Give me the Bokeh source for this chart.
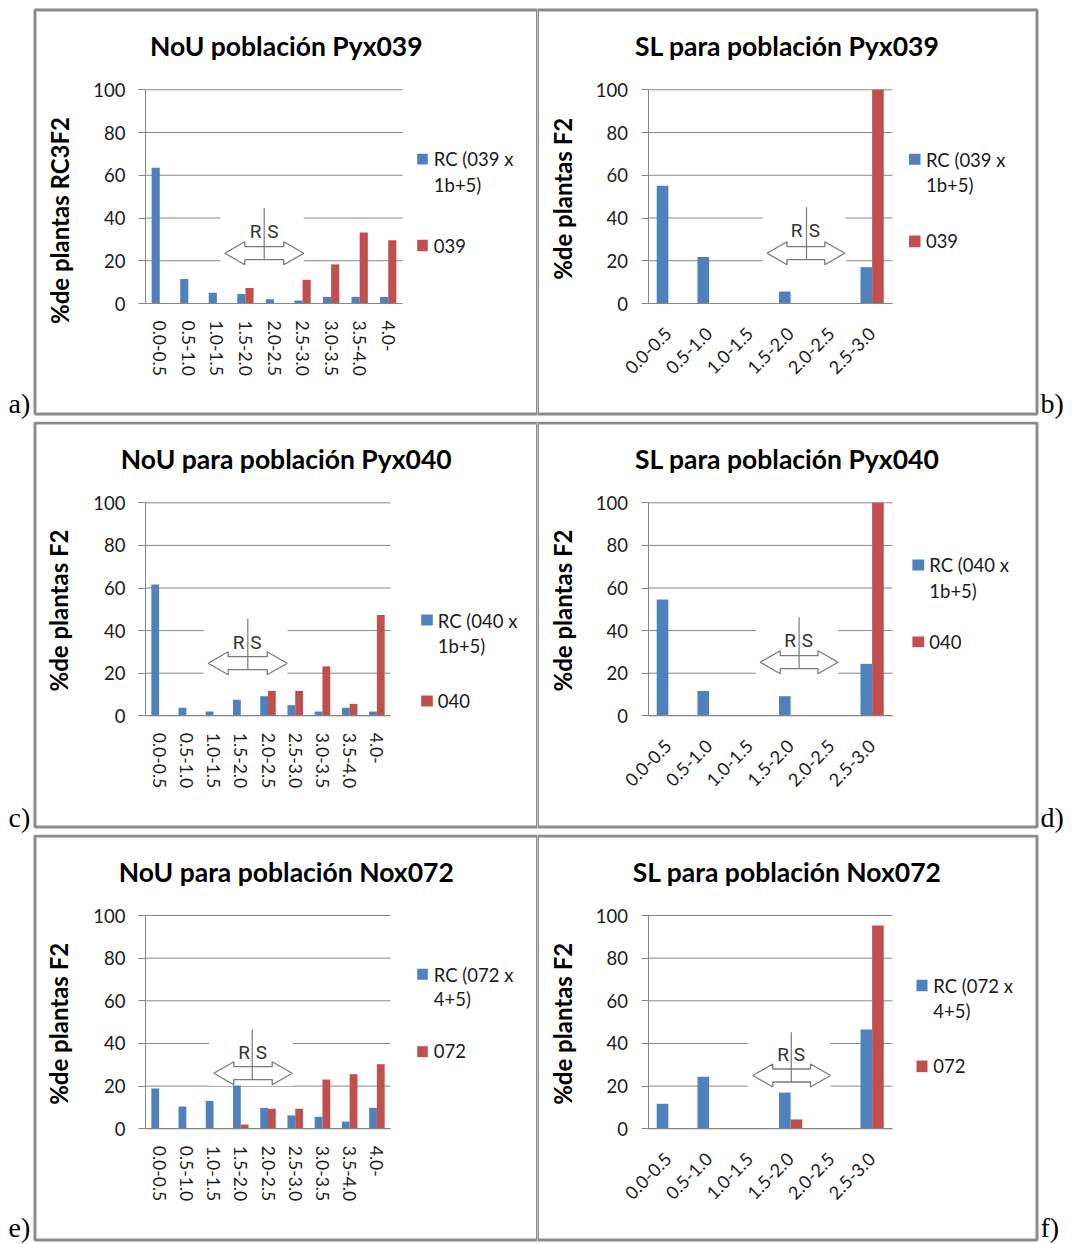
import math
from bokeh.plotting import figure
from bokeh.models import ColumnDataSource, Range1d, Label, BoxAnnotation, FixedTicker
from bokeh.transform import dodge
from bokeh.layouts import row, column
from bokeh.embed import file_html
from bokeh.resources import INLINE

# ---------------- data ----------------
cats_nou = ["0.0-0.5", "0.5-1.0", "1.0-1.5", "1.5-2.0", "2.0-2.5",
            "2.5-3.0", "3.0-3.5", "3.5-4.0", "4.0-"]
cats_sl = ["0.0-0.5", "0.5-1.0", "1.0-1.5", "1.5-2.0", "2.0-2.5", "2.5-3.0"]

nou_039_rc = [63.5, 11.5, 5.0, 4.4, 2.0, 1.4, 3.1, 3.1, 3.1]
nou_039_par = [0, 0, 0, 7.3, 0, 11.1, 18.3, 33.2, 29.6]
sl_039_rc = [55.1, 21.8, 0, 5.6, 0, 17.0]
sl_039_par = [0, 0, 0, 0, 0, 100]

nou_040_rc = [61.7, 3.8, 2.0, 7.5, 9.2, 5.0, 2.0, 3.8, 2.0]
nou_040_par = [0, 0, 0, 0, 11.7, 11.7, 23.2, 5.6, 47.3]
sl_040_rc = [54.6, 11.7, 0, 9.2, 0, 24.4]
sl_040_par = [0, 0, 0, 0, 0, 100]

nou_072_rc = [18.9, 10.5, 13.0, 20.3, 9.8, 6.3, 5.6, 3.4, 9.8]
nou_072_par = [0, 0, 0, 2.0, 9.4, 9.4, 23.1, 25.6, 30.3]
sl_072_rc = [11.7, 24.4, 0, 17.0, 0, 46.6]
sl_072_par = [0, 0, 0, 4.4, 0, 95.3]

y_ticks = [0, 20, 40, 60, 80, 100]

titles = ["NoU población Pyx039", "SL para población Pyx039",
          "NoU para población Pyx040", "SL para población Pyx040",
          "NoU para población Nox072", "SL para población Nox072"]
ylabels = ["%de plantas RC3F2", "%de plantas F2", "%de plantas F2",
           "%de plantas F2", "%de plantas F2", "%de plantas F2"]
legend_rc = [("RC (039 x", "1b+5)"), ("RC (039 x", "1b+5)"),
             ("RC (040 x", "1b+5)"), ("RC (040 x", "1b+5)"),
             ("RC (072 x", "4+5)"), ("RC (072 x", "4+5)")]
legend_par = ["039", "039", "040", "040", "072", "072"]
tags = ["a)", "b)", "c)", "d)", "e)", "f)"]

series = [(cats_nou, nou_039_rc, nou_039_par), (cats_sl, sl_039_rc, sl_039_par),
          (cats_nou, nou_040_rc, nou_040_par), (cats_sl, sl_040_rc, sl_040_par),
          (cats_nou, nou_072_rc, nou_072_par), (cats_sl, sl_072_rc, sl_072_par)]

# ---------------- styles / layout (page pixels) ----------------
BLUE = "#4F81BD"
RED = "#C0504D"
GRID = "#868686"
BORDER = "#8c8c8c"
ARROW = "#7a7a7a"
TXT = "#1a1a1a"
SANS = "Lato"
SERIF = "Liberation Serif"
RSFONT = "Roboto"
BAR_W = 1 / 3.5

COLS = [(0, 537), (537, 541)]                  # page x origin, width
ROWS = [(0, 421), (421, 413), (834, 410)]      # page y origin, height
BOX_X = [(34.5, 537.0), (537.0, 1036.5)]
BOX_Y = [(9.5, 413.5), (422.5, 826.5), (835.5, 1239.5)]
TAG_X = [8, 1040]
TAG_MID = [403, 817, 1227]
TITLE_DY = 36

# frame: (x left, x right, y top (=100), y bottom (=0)); ylab: centre
# legend: sq x0, sq x1, text x, blue sq top, bottom, line1 mid, line2 mid, red sq top, bottom, red mid
# arrow: left tip, right tip, centre y, bar x, bar top, R x, S x, R/S y, white box x0, x1
geo = [
    dict(frame=(145, 402, 89.3, 303), ylab=(59, 220),
         legend=(416.7, 427.3, 433.3, 153.3, 164, 158.9, 184.5, 239.3, 250.7, 245),
         arrow=(224.3, 303.3, 252.7, 263.7, 207.7, 255, 272.5, 230.7, 220, 303.3)),
    dict(frame=(647.5, 892, 89.3, 303), ylab=(562, 198.3),
         legend=(908.5, 920, 925.4, 153.3, 164.3, 159, 184, 235, 246.7, 240.7),
         arrow=(766.5, 844.3, 252.7, 806, 206.7, 796, 814, 230, 762, 845.3)),
    dict(frame=(145, 390, 502.3, 715.3), ylab=(58, 610),
         legend=(420.7, 432.3, 437.3, 614, 625, 620, 645.5, 695, 706, 700.3),
         arrow=(207.7, 286.7, 662.7, 247.3, 618.3, 238, 255.5, 641.7, 203, 287)),
    dict(frame=(647.5, 892, 502.3, 715.3), ylab=(562, 610),
         legend=(911.9, 923.7, 928.8, 559, 570, 564.3, 590, 636, 646.7, 641.7),
         arrow=(759.7, 837.5, 661.7, 798.6, 616.7, 789.7, 807, 640, 755.3, 837.5)),
    dict(frame=(145, 390, 915, 1128.3), ylab=(58, 1023.3),
         legend=(416.7, 427.3, 433.3, 968.3, 979.3, 974.2, 998.9, 1045.7, 1056.7, 1050.3),
         arrow=(213.3, 291.7, 1072.7, 251.7, 1029.3, 243.5, 261, 1051.7, 208.3, 292.3)),
    dict(frame=(647.5, 892, 915, 1128.3), ylab=(562, 1023.3),
         legend=(916, 927, 932.8, 979.3, 990.7, 985, 1010, 1060, 1071.7, 1065),
         arrow=(752.3, 830, 1075, 790.8, 1031.7, 782.5, 799, 1054, 747.2, 830)),
]

HEAD_L = 20
HEAD_H = 11.5
SHAFT_H = 6.5


def make_panel(i):
    col, rw = i % 2, i // 2
    ox, W = COLS[col]
    oy, H = ROWS[rw]
    g = geo[i]
    cats, rc, par = series[i]
    n = len(cats)
    fx0, fx1, fy0, fy1 = g["frame"]
    pitch = (fx1 - fx0) / n
    ppu = (fy1 - fy0) / 100.0

    def dx(px):
        return (px - fx0) / pitch

    def dy(py):
        return (fy1 - py) / ppu

    p = figure(x_range=Range1d(dx(ox), dx(ox + W)), y_range=Range1d(dy(oy + H), dy(oy)),
               width=W, height=H, min_border=0,
               output_backend="svg", toolbar_location=None, tools="",
               outline_line_color=None, background_fill_color="white",
               border_fill_color="white")
    p.title.visible = False
    p.xgrid.visible = False
    p.ygrid.visible = False

    # horizontal value grid lines across the category area
    p.segment(x0=[0] * len(y_ticks), x1=[n] * len(y_ticks), y0=y_ticks, y1=y_ticks,
              line_color=GRID, line_width=1)

    ya = p.yaxis[0]
    ya.fixed_location = 0
    ya.bounds = (0, 100)
    ya.ticker = FixedTicker(ticks=y_ticks)
    ya.axis_line_color = GRID
    ya.major_tick_line_color = GRID
    ya.major_tick_out = 7
    ya.major_tick_in = 0
    ya.minor_tick_line_color = None
    ya.major_label_text_font = SANS
    ya.major_label_text_font_size = "18.5px"
    ya.major_label_text_color = TXT
    ya.major_label_standoff = 13

    centers = [k + 0.5 for k in range(n)]
    xa = p.xaxis[0]
    xa.fixed_location = 0
    xa.bounds = (0, n)
    xa.ticker = FixedTicker(ticks=centers)
    xa.major_label_overrides = {c: lab for c, lab in zip(centers, cats)}
    xa.axis_line_color = GRID
    xa.major_tick_line_color = None
    xa.minor_tick_line_color = None
    xa.major_tick_out = 0
    xa.major_tick_in = 0
    xa.major_label_text_font = SANS
    xa.major_label_text_color = TXT
    if n == 9:
        xa.major_label_orientation = "vertical"
        xa.major_label_text_font_size = "17.5px"
        xa.major_label_standoff = 17
    else:
        xa.major_label_orientation = math.pi / 4
        xa.major_label_text_font_size = "18px"
        xa.major_label_standoff = 27

    lt, rt, cy, vx, vtop, rcx, scx, rscy, gx0, gx1 = g["arrow"]
    # white backing box of the R|S arrow shape
    p.quad(left=[dx(gx0)], right=[dx(gx1)], top=[dy(vtop)], bottom=[dy(cy + HEAD_H + 1)],
           fill_color="white", line_color=None)

    src = ColumnDataSource(dict(xc=centers, rc=rc, par=par))
    p.vbar(x=dodge("xc", -BAR_W / 2), top="rc", width=BAR_W,
           source=src, fill_color=BLUE, line_color=None)
    p.vbar(x=dodge("xc", BAR_W / 2), top="par", width=BAR_W,
           source=src, fill_color=RED, line_color=None)

    ax = [lt, lt + HEAD_L, lt + HEAD_L, rt - HEAD_L, rt - HEAD_L, rt,
          rt - HEAD_L, rt - HEAD_L, lt + HEAD_L, lt + HEAD_L]
    ay = [cy, cy - HEAD_H, cy - SHAFT_H, cy - SHAFT_H, cy - HEAD_H, cy,
          cy + HEAD_H, cy + SHAFT_H, cy + SHAFT_H, cy + HEAD_H]
    p.patch(x=[dx(v) for v in ax], y=[dy(v) for v in ay], fill_color="white",
            line_color=ARROW, line_width=1.3)
    p.segment(x0=[dx(vx)], y0=[dy(vtop)], x1=[dx(vx)], y1=[dy(cy + SHAFT_H)],
              line_color=ARROW, line_width=1.2)
    for t, cx in (("R", rcx), ("S", scx)):
        p.add_layout(Label(x=dx(cx), y=dy(rscy), text=t, text_font=RSFONT,
                           text_font_size="19px", text_color="#333333",
                           text_align="center", text_baseline="middle"))

    # panel border
    bx0, bx1 = BOX_X[col]
    by0, by1 = BOX_Y[rw]
    p.add_layout(BoxAnnotation(left=dx(bx0), right=dx(bx1), top=dy(by0), bottom=dy(by1),
                               fill_alpha=0, line_color=BORDER, line_alpha=1, line_width=3))

    # chart title
    p.add_layout(Label(x=dx((bx0 + bx1) / 2), y=dy(by0 + TITLE_DY), text=titles[i],
                       text_font=SANS, text_font_style="bold", text_font_size="26.5px",
                       text_color="black", text_align="center", text_baseline="middle"))
    # value axis title
    yx, yy = g["ylab"]
    p.add_layout(Label(x=dx(yx), y=dy(yy), text=ylabels[i], angle=math.pi / 2,
                       text_font=SANS, text_font_style="bold", text_font_size="24px",
                       text_color="black", text_align="center", text_baseline="middle"))

    # legend
    sx0, sx1, tx, bt, bb, m1, m2, rtp, rbt, rm = g["legend"]
    p.add_layout(BoxAnnotation(left=dx(sx0), right=dx(sx1), top=dy(bt), bottom=dy(bb),
                               fill_color=BLUE, fill_alpha=1, line_alpha=0))
    p.add_layout(BoxAnnotation(left=dx(sx0), right=dx(sx1), top=dy(rtp), bottom=dy(rbt),
                               fill_color=RED, fill_alpha=1, line_alpha=0))
    for txt, mid in ((legend_rc[i][0], m1), (legend_rc[i][1], m2), (legend_par[i], rm)):
        p.add_layout(Label(x=dx(tx), y=dy(mid), text=txt, text_font=SANS,
                           text_font_size="18.5px", text_color=TXT,
                           text_align="left", text_baseline="middle"))

    # panel tag a) ... f)
    p.add_layout(Label(x=dx(TAG_X[col]), y=dy(TAG_MID[rw]), text=tags[i],
                       text_font=SERIF, text_font_size="28px", text_color="black",
                       text_align="left", text_baseline="middle"))
    return p


figs = [make_panel(i) for i in range(6)]
layout = column(row(figs[0], figs[1], spacing=0),
                row(figs[2], figs[3], spacing=0),
                row(figs[4], figs[5], spacing=0), spacing=0)

open("out.html", "w").write(file_html(layout, INLINE, title="NoU y SL"))
